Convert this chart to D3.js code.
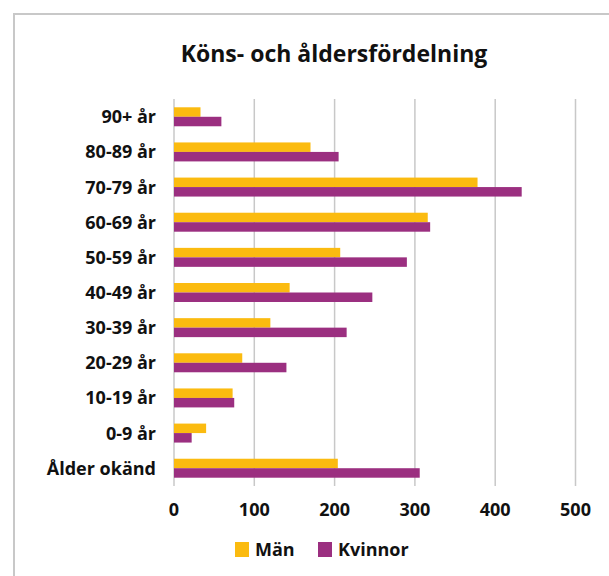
<!DOCTYPE html>
<html>
<head>
<meta charset="utf-8">
<script src="https://cdn.jsdelivr.net/npm/d3@7"></script>
<style>
  body { margin: 0; background: #fff; }
  text { font-family: 'Open Sans', sans-serif; fill: #111; }
</style>
</head>
<body>
<script>
// data
const ages = ['90+ år', '80-89 år', '70-79 år', '60-69 år', '50-59 år', '40-49 år', '30-39 år', '20-29 år', '10-19 år', '0-9 år', 'Ålder okänd']
const man = [33, 170, 378, 316, 207, 144, 120, 85, 73, 40, 204]
const kvinnor = [59, 205, 433, 319, 290, 247, 215, 140, 75, 22, 306]
const series = ['Män', 'Kvinnor']
const ticks = [0, 100, 200, 300, 400, 500]

const colors = { 'Män': '#fbbb10', 'Kvinnor': '#9b2f80' }

const W = 609, H = 576
const svg = d3.select('body').append('svg').attr('width', W).attr('height', H)

// outer frame
svg.append('rect')
  .attr('x', 14).attr('y', 14).attr('width', W).attr('height', H)
  .attr('fill', '#fff').attr('stroke', '#c8c8c8').attr('stroke-width', 2)

svg.append('text')
  .attr('x', 334).attr('y', 62)
  .attr('text-anchor', 'middle')
  .attr('font-size', 23).attr('font-weight', 700)
  .text('Köns- och åldersfördelning')

const x = d3.scaleLinear().domain([0, 500]).range([174, 575.5])
const y = d3.scaleBand().domain(ages).range([99, 486]).paddingInner(0.46).paddingOuter(0.236)
const sub = d3.scaleBand().domain(series).range([0, y.bandwidth()])

// gridlines
svg.append('g').selectAll('line').data(ticks).join('line')
  .attr('x1', d => x(d)).attr('x2', d => x(d))
  .attr('y1', 99).attr('y2', 486)
  .attr('stroke', '#c8c8c8').attr('stroke-width', 1.5)

const rows = ages.map((a, i) => ({ age: a, 'Män': man[i], 'Kvinnor': kvinnor[i] }))

const groups = svg.append('g').selectAll('g').data(rows).join('g')
  .attr('transform', d => `translate(0,${y(d.age)})`)

groups.selectAll('rect').data(d => series.map(s => ({ s, v: d[s] }))).join('rect')
  .attr('x', x(0))
  .attr('y', d => sub(d.s))
  .attr('width', d => x(d.v) - x(0))
  .attr('height', sub.bandwidth())
  .attr('fill', d => colors[d.s])

// category labels
svg.append('g').selectAll('text').data(ages).join('text')
  .attr('x', 156).attr('y', d => y(d) + y.bandwidth() / 2)
  .attr('dy', '0.36em')
  .attr('text-anchor', 'end')
  .attr('font-size', 18).attr('font-weight', 700)
  .text(d => d)

// tick labels
svg.append('g').selectAll('text').data(ticks).join('text')
  .attr('x', d => x(d)).attr('y', 516)
  .attr('text-anchor', 'middle')
  .attr('font-size', 18).attr('font-weight', 700)
  .text(d => d)

// legend
const legendX = { 'Män': 235, 'Kvinnor': 318 }
const lg = svg.append('g').selectAll('g').data(series).join('g')
  .attr('transform', d => `translate(${legendX[d]},542)`)
lg.append('rect').attr('width', 14).attr('height', 15).attr('fill', d => colors[d])
lg.append('text').attr('x', 20).attr('y', 14)
  .attr('font-size', 18).attr('font-weight', 700)
  .text(d => d)
</script>
</body>
</html>
